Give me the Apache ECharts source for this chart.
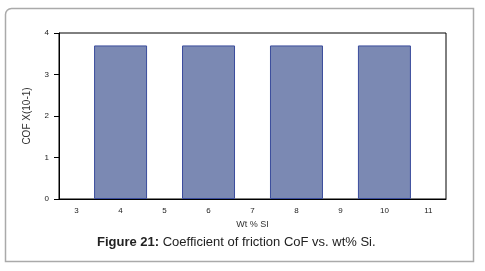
<!DOCTYPE html>
<html><head><meta charset="utf-8">
<script src="https://cdn.jsdelivr.net/npm/echarts@6/dist/echarts.min.js"></script>
<style>html,body{margin:0;padding:0;background:#fff}#c{width:485px;height:271px}</style>
</head><body><div id="c"></div>
<script>
const wtSi = [4, 6, 8, 10];
const cof = [3.7, 3.7, 3.7, 3.7];
const yTicks = [0, 1, 2, 3, 4];
const xTicks = [3, 4, 5, 6, 7, 8, 9, 10, 11];

const chart = echarts.init(document.getElementById('c'), null, {renderer: 'canvas'});
const F = 'Liberation Sans, Arial, sans-serif';
chart.setOption({
  animation: false,
  backgroundColor: '#fff',
  grid: {left: 59, right: 39, top: 33, bottom: 72, show: true, borderColor: '#000', borderWidth: 1, backgroundColor: 'transparent'},
  xAxis: {
    type: 'value', min: 2.6, max: 11.4, splitNumber: 9,
    name: 'Wt % SI', nameLocation: 'middle', nameGap: 20,
    nameTextStyle: {fontFamily: F, fontSize: 9, color: '#333'},
    axisLine: {show: true, lineStyle: {color: '#000', width: 1}},
    axisTick: {show: false},
    splitLine: {show: false},
    axisLabel: {fontFamily: F, fontSize: 8, color: '#222', margin: 8,
      showMinLabel: false, showMaxLabel: false,
      formatter: v => xTicks.includes(Math.round(v * 1000) / 1000) ? String(v) : ''}
  },
  yAxis: {
    type: 'value', min: yTicks[0], max: yTicks[yTicks.length - 1], interval: 1,
    name: 'COF X(10-1)', nameLocation: 'middle', nameGap: 27, nameRotate: 90,
    nameTextStyle: {fontFamily: F, fontSize: 10, color: '#333'},
    axisLine: {show: true, lineStyle: {color: '#000', width: 1}},
    axisTick: {show: true, length: 5, lineStyle: {color: '#000'}},
    splitLine: {show: false},
    axisLabel: {fontFamily: F, fontSize: 8, color: '#222', margin: 10}
  },
  series: [{
    type: 'bar',
    data: wtSi.map((x, i) => [x, cof[i]]),
    barWidth: 53,
    itemStyle: {color: '#7b89b3', borderColor: '#3a4c9c', borderWidth: 1}
  }],
  graphic: [
    {type: 'rect', shape: {x: 5.5, y: 8.5, width: 468, height: 253, r: [6, 0, 0, 0]},
     style: {fill: 'none', stroke: '#aaa', lineWidth: 1.5}, silent: true, z: 100},
    {type: 'text', left: 97, top: 236, silent: true,
     style: {text: '{b|Figure 21:} Coefficient of friction CoF vs. wt% Si.',
       rich: {b: {fontFamily: F, fontSize: 13, fontWeight: 'bold', fill: '#222'}},
       fontFamily: F, fontSize: 13, fill: '#222'}}
  ]
});
</script></body></html>
